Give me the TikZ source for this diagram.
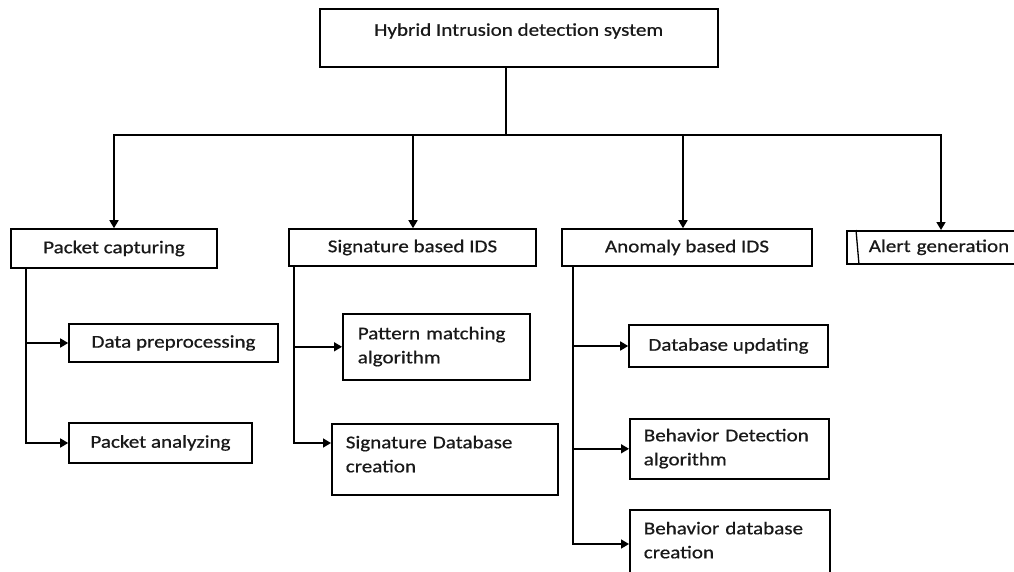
\documentclass[tikz,border=0pt]{standalone}
\usepackage{fontspec}
\setmainfont{Carlito}[FakeStretch=1.17, FakeBold=0.6]
\usetikzlibrary{arrows.meta}

\begin{document}
\begin{tikzpicture}[x=1pt, y=-1pt,
  every node/.style={font=\fontsize{18}{24}\selectfont, text=black!90},
  box/.style={draw, line width=1.6pt, rectangle, inner ysep=0pt},
  cbox/.style={box, anchor=center, inner xsep=0pt, align=center},
  lbox/.style={box, anchor=north west, align=left},
  link/.style={line width=1.6pt},
  arr/.style={link, -{Triangle[length=8pt, width=9pt]}}
]
% page area
\fill[white] (0,0) rectangle (1014,572);
\useasboundingbox (0,0) rectangle (1014,572);
\clip (0,0) rectangle (1014,572);

% root
\node[box, anchor=north west, minimum width=398pt, inner xsep=0pt,
      text height=27pt, text depth=31pt] (root) at (319,8)
      {Hybrid Intrusion detection system};

% second level
\node[cbox, minimum width=206pt, minimum height=39pt] (pc)  at (114,248.5) {Packet capturing};
\node[cbox, minimum width=247pt, minimum height=37pt] (sig) at (412.5,247.5) {Signature based IDS};
\node[cbox, minimum width=250pt, minimum height=37pt] (an)  at (687,247.5) {Anomaly based IDS};
\node[lbox, inner xsep=22pt, text width=150pt, minimum height=33pt] (al) at (846,230) {Alert generation};
\draw[line width=1.3pt] ([xshift=10pt]al.north west) -- ([xshift=13pt]al.south west);

% packet capturing branch
\node[cbox, minimum width=209pt, minimum height=38pt] (dp) at (173.5,343) {Data preprocessing};
\node[cbox, minimum width=183pt, minimum height=40pt] (pa) at (160.5,443) {Packet analyzing};

% signature branch
\node[lbox, inner xsep=15pt, text width=157pt, text height=25.5pt, text depth=40.5pt] (pm) at (342,313)
  {\mbox{Pattern matching}\\algorithm};
\node[lbox, inner xsep=14pt, text width=198pt, text height=24.5pt, text depth=46.5pt] (sdb) at (331,423)
  {\mbox{Signature Database}\\creation};

% anomaly branch
\node[cbox, minimum width=199pt, minimum height=42pt] (du) at (728.5,346) {Database updating};
\node[lbox, inner xsep=14pt, text width=171pt, text height=22.5pt, text depth=37.5pt] (bd) at (629,418)
  {\mbox{Behavior Detection}\\algorithm};
\node[lbox, inner xsep=14pt, text width=172pt, text height=24.5pt, text depth=56.5pt] (bdb) at (629,509)
  {\mbox{Behavior database}\\creation};

% distribution bus
\coordinate (hub)  at (506,135);
\coordinate (busL) at (114,135);
\coordinate (busR) at (941,135);
\coordinate (sigx) at (413,135);
\coordinate (anx)  at (683,135);
\draw[link] (root.south -| hub) -- (hub);
\draw[arr] (hub) -- (busL) -- (pc.north);
\draw[arr] (hub) -- (busR) -- (busR |- al.north);
\draw[arr] (sigx) -- (sigx |- sig.north);
\draw[arr] (anx) -- (anx |- an.north);

% spines
\coordinate (spPC)  at (26,300);
\coordinate (spSig) at (294,300);
\coordinate (spAn)  at (573,300);

\draw[arr] (pc.south -| spPC) |- (pa.west);
\draw[arr] (spPC |- dp.west) -- (dp.west);

\draw[arr] (sig.south -| spSig) |- ([yshift=-20pt]sdb.north west);
\draw[arr] (spSig |- pm.west) -- (pm.west);

\draw[arr] (an.south -| spAn) |- ([yshift=-35pt]bdb.north west);
\draw[arr] (spAn |- du.west) -- (du.west);
\draw[arr] (spAn |- bd.west) -- (bd.west);
\end{tikzpicture}
\end{document}
